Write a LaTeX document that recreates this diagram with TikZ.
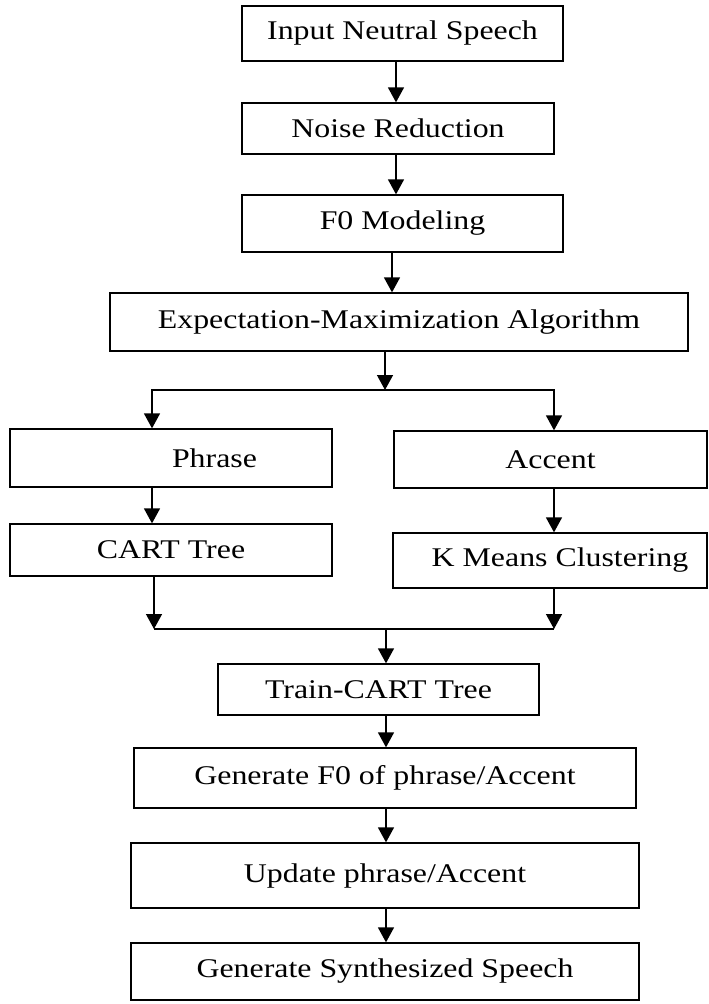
\documentclass[tikz,border=0pt]{standalone}
\usepackage{fontspec}
\setmainfont{Liberation Serif}[FakeStretch=1.18]
\usetikzlibrary{arrows.meta}
\begin{document}
\begin{tikzpicture}[x=1pt,y=-1pt,
  box/.style={draw,line width=1.3pt,inner sep=0pt,font=\fontsize{27}{30}\selectfont},
  arr/.style={line width=1.4pt,-{Triangle[length=15pt,width=16pt]}},
  ln/.style={line width=1.4pt}]
\useasboundingbox (0,0) rectangle (709,1004);
\node[box,minimum width=321pt,minimum height=55pt] (b1) at (402.5,33.5) {Input Neutral Speech};
\node[box,minimum width=312pt,minimum height=51pt] (b2) at (398,128.5) {Noise Reduction};
\node[box,minimum width=321pt,minimum height=57pt] (b3) at (402.5,223.5) {F0 Modeling};
\node[box,minimum width=578pt,minimum height=58pt] (b4) at (399,322) {Expectation-Maximization Algorithm};
\node[box,minimum width=322pt,minimum height=58pt] (b5) at (171,458) {\hspace*{87pt}Phrase};
\node[box,minimum width=313pt,minimum height=57pt] (b6) at (550.5,459.5) {Accent};
\node[box,minimum width=322pt,minimum height=52pt] (b7) at (171,550) {CART Tree};
\node[box,minimum width=314pt,minimum height=55pt] (b8) at (550,560.5) {\hspace*{20pt}K Means Clustering};
\node[box,minimum width=321pt,minimum height=51pt] (b9) at (378.5,689.5) {Train-CART Tree};
\node[box,minimum width=502pt,minimum height=60pt] (b10) at (385,778) {Generate F0 of phrase/Accent};
\node[box,minimum width=508pt,minimum height=65pt] (b11) at (385,875.5) {Update phrase/Accent};
\node[box,minimum width=508pt,minimum height=57pt] (b12) at (385,971.5) {Generate Synthesized Speech};
\coordinate (split) at (385,390);
\coordinate (mergeL) at (154,629);
\coordinate (mergeR) at (554,629);
\coordinate (merge) at (386,629);
\draw[arr] ([xshift=-6.5pt]b1.south) -- ([xshift=-2pt]b2.north);
\draw[arr] ([xshift=-2pt]b2.south) -- ([xshift=-6.5pt]b3.north);
\draw[arr] ([xshift=-10.5pt]b3.south) -- ([xshift=-7pt]b4.north);
\draw[arr] ([xshift=-14pt]b4.south) -- (split);
\draw[arr] (split) -| ([xshift=-19pt]b5.north);
\draw[arr] (split) -| ([xshift=3.5pt]b6.north);
\draw[arr] ([xshift=-19pt]b5.south) -- ([xshift=-19pt]b7.north);
\draw[arr] ([xshift=3.5pt]b6.south) -- ([xshift=4pt]b8.north);
\draw[arr] ([xshift=-17pt]b7.south) -- (mergeL);
\draw[arr] ([xshift=4pt]b8.south) -- (mergeR);
\draw[ln] (mergeL) -- (mergeR);
\draw[arr] (merge) -- ([xshift=7.5pt]b9.north);
\draw[arr] ([xshift=7.5pt]b9.south) -- ([xshift=1pt]b10.north);
\draw[arr] ([xshift=1pt]b10.south) -- ([xshift=1pt]b11.north);
\draw[arr] ([xshift=1pt]b11.south) -- ([xshift=1pt]b12.north);
\end{tikzpicture}
\end{document}
